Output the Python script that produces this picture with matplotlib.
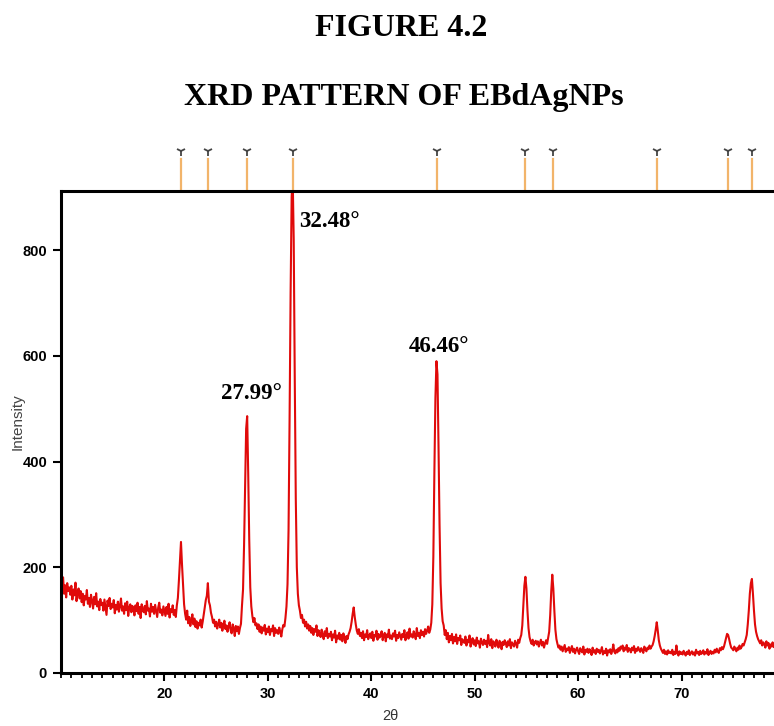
import numpy as np
import matplotlib
matplotlib.use("Agg")
import matplotlib.pyplot as plt
from matplotlib.ticker import MultipleLocator
import matplotlib.transforms as mtransforms

two_theta_start = 10.0
two_theta_step = 0.1

intensity_10_20 = [
    172,158,181,150,166,143,170,155,162,148,
    165,139,158,147,171,136,152,160,141,155,
    134,150,128,146,139,157,131,142,125,148,
    137,122,144,130,151,126,135,119,140,129,
    133,118,139,125,110,137,127,142,121,131,
    124,138,113,129,120,135,116,127,141,118,
    126,112,132,119,135,108,124,130,115,127,
    121,109,128,117,133,112,125,104,130,119,
    115,127,111,136,118,122,107,131,116,125,
    112,129,118,106,124,133,114,120,109,126,
]
intensity_20_30 = [
    117,108,125,112,131,105,121,115,128,110,
    119,106,128,142,175,212,248,205,168,130,
    112,101,118,94,106,89,99,111,92,103,
    87,98,84,95,90,101,86,97,110,124,
    138,146,170,135,128,114,106,95,101,88,
    97,84,92,101,86,95,80,91,99,83,
    90,78,88,96,81,75,92,84,70,89,
    79,88,74,85,93,128,158,242,352,462,
    486,378,252,162,126,108,96,104,90,94,
    83,92,78,88,75,86,80,91,73,84,
]
intensity_30_40 = [
    77,88,72,83,79,90,70,85,76,81,
    74,86,78,69,83,91,88,104,126,168,
    270,480,720,900,940,820,560,330,200,150,
    128,118,104,110,95,101,88,97,84,92,
    80,89,76,85,72,83,78,90,70,81,
    75,68,82,71,64,79,70,85,66,74,
    69,78,62,73,67,80,58,71,65,76,
    63,72,60,75,68,57,70,64,73,78,
    85,97,112,124,106,92,80,74,83,70,
    76,66,79,62,73,68,81,64,70,75,
]
intensity_40_50 = [
    66,78,61,72,69,80,63,74,67,71,
    79,62,70,76,60,73,68,82,65,71,
    64,75,69,80,61,72,66,77,70,63,
    74,68,81,62,71,77,65,84,69,73,
    67,79,72,64,85,70,76,66,81,72,
    78,69,83,74,80,88,76,82,95,130,
    220,380,520,590,565,430,280,170,122,98,
    90,72,81,64,76,58,70,62,74,56,
    68,60,73,55,66,62,71,53,64,59,
    57,69,52,63,58,71,50,61,66,54,
]
intensity_50_60 = [
    62,51,67,56,60,48,65,58,53,63,
    55,61,49,72,57,52,64,47,60,56,
    50,63,55,48,61,57,45,59,53,62,
    56,49,60,52,64,47,58,54,50,61,
    55,48,63,57,66,72,90,128,165,182,
    160,118,85,68,60,55,63,52,58,61,
    54,60,50,57,63,52,59,48,56,62,
    55,66,78,110,155,186,160,118,82,64,
    55,48,52,44,50,41,47,53,40,46,
    43,49,38,45,51,40,46,37,44,48,
]
intensity_60_70 = [
    41,36,47,42,39,50,35,44,40,46,
    38,45,41,34,48,39,43,36,46,40,
    44,37,42,49,35,41,38,46,33,43,
    39,45,36,42,54,40,37,44,39,47,
    42,50,46,52,41,48,44,53,40,47,
    45,39,48,43,51,38,46,42,49,44,
    40,47,43,38,50,44,41,48,45,52,
    46,50,53,60,70,82,96,80,62,52,
    46,42,38,44,36,41,35,43,38,40,
    37,44,34,40,36,52,38,33,41,36,
]
intensity_70_80 = [
    39,35,42,37,33,40,36,43,34,38,
    41,35,39,33,44,37,40,34,42,36,
    38,43,35,40,37,45,34,39,42,36,
    40,37,44,39,46,41,38,47,43,49,
    45,50,58,66,74,72,64,55,48,46,
    43,50,45,41,48,44,52,46,49,55,
    52,58,64,72,92,118,150,170,178,150,
    118,92,78,70,64,60,56,62,52,58,
    55,48,60,52,57,46,54,50,58,49,
    53,47,56,50,45,54,49,52,46,51,
]

reference_positions = [21.65, 24.24, 28.02, 32.41, 46.36, 54.91, 57.53, 67.63, 74.49, 76.80]

peak_labels = ["27.99°", "32.48°", "46.46°"]
peak_label_x = [25.5, 33.0, 43.6]
peak_label_y = [528, 855, 618]

x_ticks = [20, 30, 40, 50, 60, 70]
y_ticks = [0, 200, 400, 600, 800]

title_line1 = "FIGURE 4.2"
title_line2 = "XRD PATTERN OF EBdAgNPs"
x_label = "2θ"
y_label = "Intensity"

# ---- build series ----
intensity = np.array(intensity_10_20 + intensity_20_30 + intensity_30_40 +
                     intensity_40_50 + intensity_50_60 + intensity_60_70 +
                     intensity_70_80, dtype=float)
two_theta = two_theta_start + two_theta_step * np.arange(len(intensity))

# ---- figure ----
W, H = 774, 726
fig = plt.figure(figsize=(W / 100, H / 100), dpi=100)
ax_left, ax_right = 61, 785
ax_top, ax_bottom = 191, 673
ax = fig.add_axes([ax_left / W, 1 - ax_bottom / H, (ax_right - ax_left) / W, (ax_bottom - ax_top) / H])

ax.plot(two_theta, intensity, color="#e00a0a", lw=1.5)
ax.set_xlim(10, 80)
ax.set_ylim(0, 912)

for s in ax.spines.values():
    s.set_linewidth(2.2)
    s.set_color("black")

tick_family = ["Liberation Sans Narrow", "Liberation Sans", "DejaVu Sans"]
ax.set_xticks(x_ticks)
ax.set_yticks(y_ticks)
ax.xaxis.set_minor_locator(MultipleLocator(1))
ax.tick_params(axis="both", which="major", direction="out", length=6, width=1.5, colors="black", pad=4)
ax.tick_params(axis="x", which="minor", direction="out", length=3.5, width=1.3)
ax.tick_params(top=False, right=False)
for lab in ax.get_xticklabels() + ax.get_yticklabels():
    lab.set_fontfamily(tick_family)
    lab.set_fontsize(10.5)
    lab.set_fontweight("bold")

# reference stick markers above the frame
trans = mtransforms.blended_transform_factory(ax.transData, ax.transAxes)
for p in reference_positions:
    ax.plot([p, p], [1.0, 1.067], color="#f2b46a", lw=1.6, transform=trans, clip_on=False, zorder=1)
    ax.plot([p], [1.082], marker="1", color="#444444", ms=7, mew=1.3, transform=trans, clip_on=False)

# peak annotations
for t, xx, yy in zip(peak_labels, peak_label_x, peak_label_y):
    ax.text(xx, yy, t, fontsize=16.5, fontweight="bold", family="Liberation Serif",
            ha="left", va="center", color="black")

# titles
fig.text(401 / W, 1 - 28 / H, title_line1, ha="center", va="center",
         fontsize=23, fontweight="bold", family="Liberation Serif")
fig.text(404 / W, 1 - 97 / H, title_line2, ha="center", va="center",
         fontsize=23, fontweight="bold", family="Liberation Serif")

# axis labels
fig.text(390 / W, 1 - 716 / H, x_label, ha="center", va="center", fontsize=10.5,
         family=tick_family, color="#333333")
fig.text(18 / W, 1 - 422 / H, y_label, ha="center", va="center", rotation=90, fontsize=11,
         family=["Liberation Sans", "DejaVu Sans"], color="#444444")

fig.savefig("out.png", dpi=100)
